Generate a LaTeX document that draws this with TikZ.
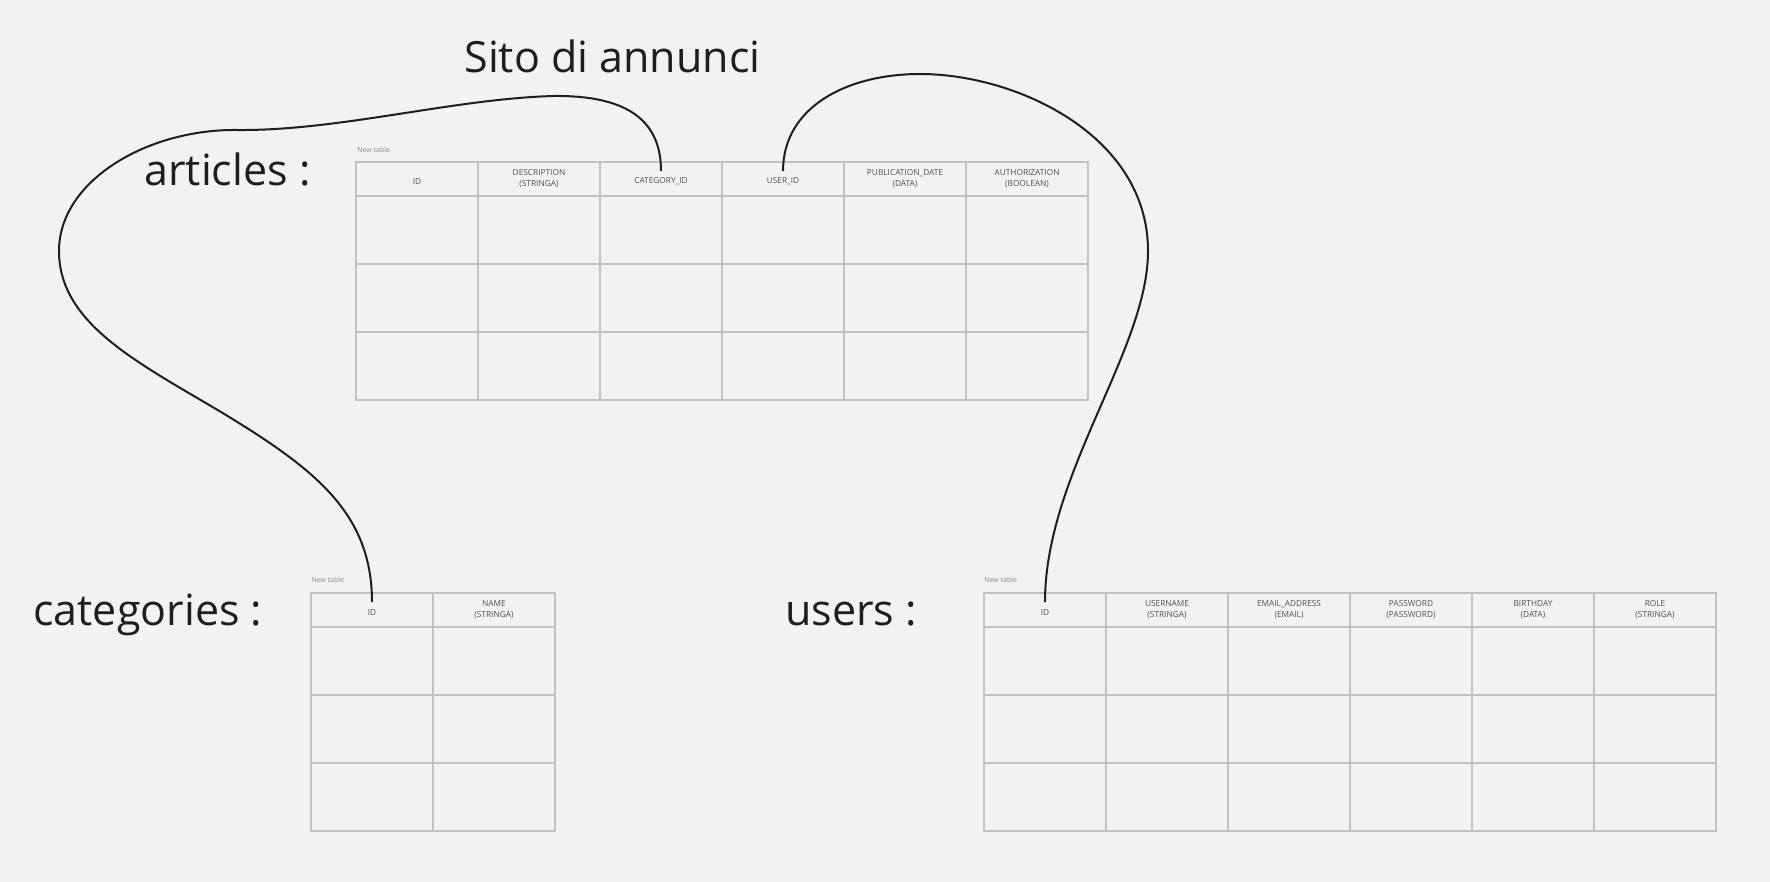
\documentclass[tikz,border=0pt]{standalone}
\usepackage{fontspec}
\setmainfont{Open Sans}
\definecolor{paper}{HTML}{F2F2F2}
\definecolor{rule}{HTML}{C2C2C2}
\definecolor{ink}{HTML}{1E1E1E}
\definecolor{headink}{HTML}{505050}
\definecolor{noteink}{HTML}{8A8A8A}

\begin{document}
\begin{tikzpicture}[x=0.5pt,y=-0.5pt,
	bigname/.style={anchor=base west,inner sep=0,text=ink,font=\fontsize{21.5}{25}\selectfont},
	tablenote/.style={anchor=west,inner sep=0,text=noteink,font=\fontsize{3.5}{4}\selectfont},
	headcell/.style={draw=rule,line width=0.7pt,inner sep=0,outer sep=0,minimum width=61pt,minimum height=17pt,align=center,text=headink,font=\fontsize{4.15}{5.5}\selectfont,execute at begin node={\rule{0pt}{5.2pt}}},
	cellrule/.style={draw=rule,line width=0.7pt},
	link/.style={draw=ink,line width=1pt}]
	\fill[paper] (0,0) rectangle (1770,882);
	\node[bigname] (title) at (464,73) {Sito di annunci};
	\node[bigname] (articles) at (144,186) {articles :};
	\node[bigname] (categories) at (33,625) {categories :};
	\node[bigname] (users) at (785,625) {users :};
	\node[tablenote] (anote) at (357,150) {New table};
	\node[tablenote] (cnote) at (311,580) {New table};
	\node[tablenote] (unote) at (984,580) {New table};
	\draw[cellrule] (356,196) rectangle (1088,400);
	\draw[cellrule] (356,264) -- (1088,264) (356,332) -- (1088,332);
	\draw[cellrule] (478,196) -- (478,400) (600,196) -- (600,400) (722,196) -- (722,400) (844,196) -- (844,400) (966,196) -- (966,400);
	\node[headcell] (aid) at (417,179) {ID};
	\node[headcell] (adesc) at (539,179) {DESCRIPTION\\(STRINGA)};
	\node[headcell] (acat) at (661,179) {CATEGORY\_ID};
	\node[headcell] (auser) at (783,179) {USER\_ID};
	\node[headcell] (adate) at (905,179) {PUBLICATION\_DATE\\(DATA)};
	\node[headcell] (aauth) at (1027,179) {AUTHORIZATION\\(BOOLEAN)};
	\draw[cellrule] (311,627) rectangle (555,831);
	\draw[cellrule] (311,695) -- (555,695) (311,763) -- (555,763);
	\draw[cellrule] (433,627) -- (433,831);
	\node[headcell] (cid) at (372,610) {ID};
	\node[headcell] (cname) at (494,610) {NAME\\(STRINGA)};
	\draw[cellrule] (984,627) rectangle (1716,831);
	\draw[cellrule] (984,695) -- (1716,695) (984,763) -- (1716,763);
	\draw[cellrule] (1106,627) -- (1106,831) (1228,627) -- (1228,831) (1350,627) -- (1350,831) (1472,627) -- (1472,831) (1594,627) -- (1594,831);
	\node[headcell] (uid) at (1045,610) {ID};
	\node[headcell] (uname) at (1167,610) {USERNAME\\(STRINGA)};
	\node[headcell] (umail) at (1289,610) {EMAIL\_ADDRESS\\(EMAIL)};
	\node[headcell] (upass) at (1411,610) {PASSWORD\\(PASSWORD)};
	\node[headcell] (ubirth) at (1533,610) {BIRTHDAY\\(DATA)};
	\node[headcell] (urole) at (1655,610) {ROLE\\(STRINGA)};
	\draw[link] ([shift={(0,9)}]acat.north) .. controls (661,124) and (632,95) .. (553,96) .. controls (452,99) and (339,131) .. (237,130) .. controls (147,129) and (59,181) .. (59,251) .. controls (59,325) and (141,364) .. (226,415) .. controls (316,470) and (372,514) .. ([shift={(0,9)}]cid.north);
	\draw[link] ([shift={(0,9)}]auser.north) .. controls (783,107) and (847,74) .. (920,74) .. controls (1016,74) and (1148,135) .. (1148,251) .. controls (1148,350) and (1045,474) .. ([shift={(0,9)}]uid.north);
\end{tikzpicture}
\end{document}
